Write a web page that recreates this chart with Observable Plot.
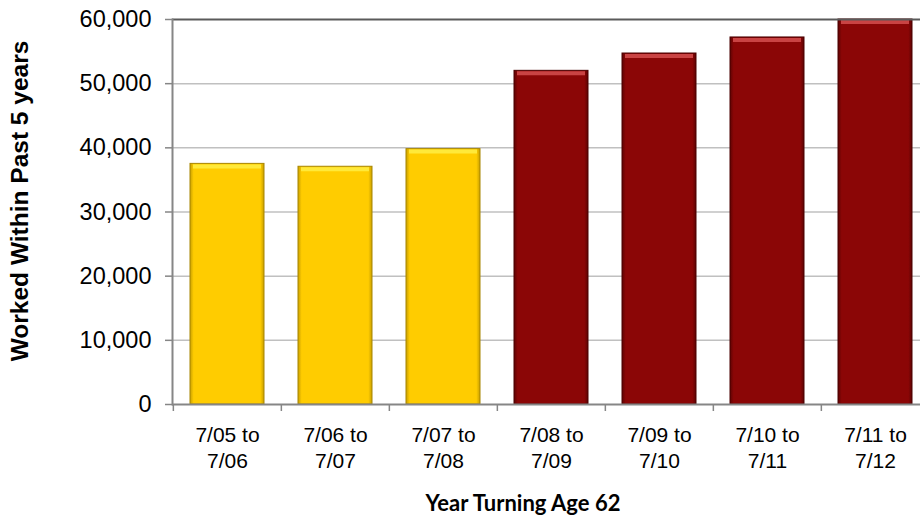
<!DOCTYPE html>
<html><head><meta charset="utf-8">
<script src="https://cdn.jsdelivr.net/npm/d3@7"></script>
<script src="https://cdn.jsdelivr.net/npm/@observablehq/plot@0.6"></script>
<style>
body{margin:0;overflow:hidden;background:#fff}
#chart{position:relative;width:920px;height:516px;overflow:hidden}
#xtitle{position:absolute;left:0;width:1046px;top:491px;text-align:center;font:bold 22px Lato, "Open Sans", sans-serif;color:#000;line-height:24px}
</style>
</head><body>
<div id="chart"><div id="xtitle">Year Turning Age 62</div></div>
<script>
const periods = ["7/05 to\n7/06","7/06 to\n7/07","7/07 to\n7/08","7/08 to\n7/09","7/09 to\n7/10","7/10 to\n7/11","7/11 to\n7/12"];
const values = [37500, 37050, 39800, 52000, 54700, 57200, 60000];
const groups = ["yellow","yellow","yellow","red","red","red","red"];
const yTicks = [0, 10000, 20000, 30000, 40000, 50000, 60000];
const yTitle = "Worked Within Past 5 years";

const data = periods.map((p, i) => ({period: p, value: values[i], group: groups[i]}));
const fills = {yellow: "url(#gYellow)", red: "url(#gRed)"};
const strokes = {yellow: "#a88600", red: "#4a0000"};
const bevels = {yellow: "#ffe93a", red: "#c94343"};

const plot = Plot.plot({
  width: 930, height: 516,
  marginLeft: 172, marginRight: 0, marginTop: 19, marginBottom: 112,
  style: {fontFamily: '"Liberation Sans", Arial, sans-serif', color: "#000", background: "transparent", maxWidth: "none"},
  x: {domain: periods, paddingInner: 0.315, paddingOuter: 0.1575, label: null},
  y: {domain: [0, 60000], label: null},
  color: {type: "identity"},
  marks: [
    Plot.ruleY(yTicks.filter(t => t > 0 && t < 60000), {stroke: "#c0c0c0", strokeWidth: 1.5}),
    Plot.barY(data, {x: "period", y: "value", fill: d => fills[d.group], stroke: d => strokes[d.group], strokeWidth: 1}),
    Plot.tickY(data, {x: "period", y: "value", stroke: d => bevels[d.group], strokeWidth: 4, dy: 2.5, insetLeft: 3, insetRight: 3}),
    Plot.ruleY([60000], {stroke: "#5a5a5a", strokeWidth: 2}),
    Plot.ruleY([0], {stroke: "#868686", strokeWidth: 2}),
    Plot.frame({anchor: "left", stroke: "#868686", strokeWidth: 2}),
    Plot.axisY({ticks: yTicks, tickFormat: d3.format(","), tickSize: 7, tickPadding: 14, fontSize: 23.5, stroke: "#868686", strokeWidth: 1.5, label: null}),
    Plot.axisX({tickSize: 7, dx: -54.15, tickFormat: () => "", stroke: "#868686", strokeWidth: 1.5, label: null}),
    Plot.axisX({tickSize: 0, tickPadding: 20, fontSize: 21, lineHeight: 1.2, label: null})
  ]
});

const svg = d3.select(plot);
const defs = svg.insert("defs", ":first-child");
function grad(id, edge, main) {
  const g = defs.append("linearGradient").attr("id", id).attr("x1", "0").attr("x2", "1").attr("y1", "0").attr("y2", "0");
  [[0, edge], [0.05, main], [0.95, main], [1, edge]].forEach(([o, c]) => g.append("stop").attr("offset", o).attr("stop-color", c));
}
grad("gYellow", "#c9a000", "#ffcc00");
grad("gRed", "#5e0303", "#8b0606");

plot.style.position = "absolute";
plot.style.left = "0";
plot.style.top = "0";
plot.style.maxWidth = "none";
document.getElementById("chart").prepend(plot);

svg.append("text")
  .attr("transform", "translate(28,201) rotate(-90)")
  .attr("text-anchor", "middle")
  .attr("font-weight", "bold")
  .attr("font-size", 24.5)
  .attr("fill", "#000")
  .text(yTitle);
</script>
</body></html>
